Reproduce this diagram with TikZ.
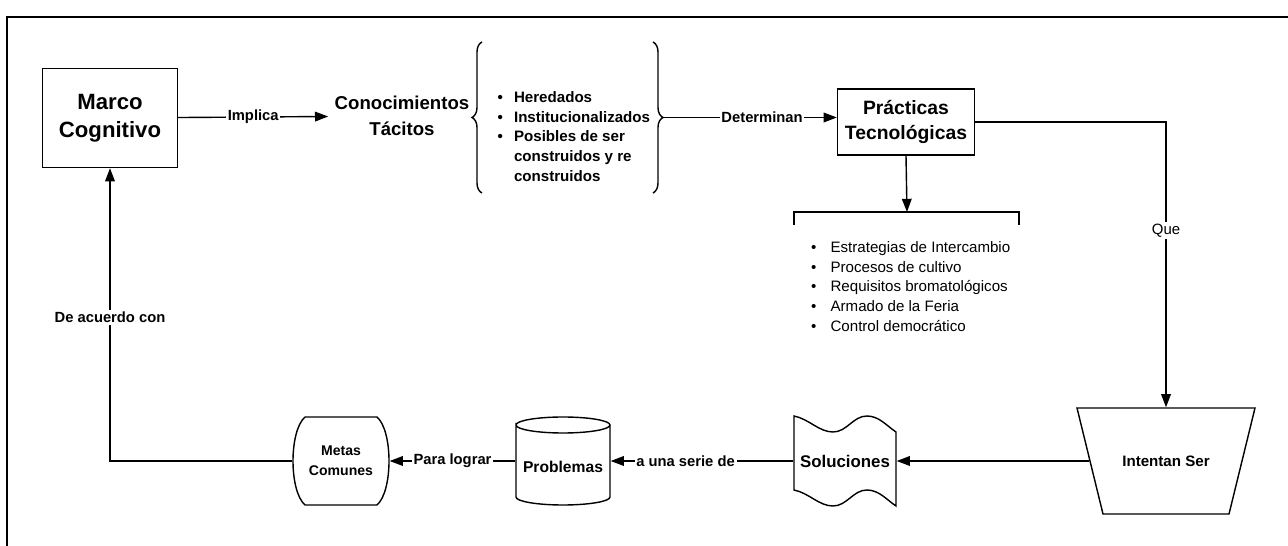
\documentclass[tikz,border=0pt]{standalone}
\usepackage{fontspec}
\setmainfont{Liberation Sans}
\usetikzlibrary{calc, arrows.meta, decorations.pathreplacing}
\newcommand{\fs}[2]{\fontsize{#1}{#2}\selectfont}

\begin{document}
\begin{tikzpicture}[x=0.02cm, y=-0.02cm, line width=0.8pt,
    >={Triangle[length=7.5pt,width=5.5pt]},
    box/.style={draw, align=center, inner sep=0pt},
    shp/.style={inner sep=0pt, align=center},
    lbl/.style={fill=white, inner sep=1pt, font=\fs{8.4}{10}\bfseries}]
    \useasboundingbox (0,0) rectangle (1288,546);
    % frame
    \draw[line width=1.1pt] (7,546) -- (7,17) -- (1288,17);
    % top row
    \node[box, minimum width=2.7cm, minimum height=1.98cm, font=\fs{12.6}{16}\bfseries] (marco) at (110,118) {Marco\\Cognitivo};
    \node[align=center, font=\fs{10.6}{14.6}\bfseries] (cono) at (402,116) {Conocimientos\\T\'acitos};
    \node[anchor=west, inner sep=0pt, font=\fs{8.6}{11.3}\bfseries] (tacit) at (497,138) {%
      \begin{tabular}{@{}l@{\hspace{6.3pt}}l@{}}
        \textbullet & Heredados\\
        \textbullet & Institucionalizados\\
        \textbullet & Posibles de ser\\
                    & construidos y re\\
                    & construidos
      \end{tabular}};
    \node[box, minimum width=2.74cm, minimum height=1.32cm, font=\fs{11}{14.2}\bfseries] (prac) at (906,122) {Pr\'acticas\\Tecnol\'ogicas};
    \node[anchor=west, inner sep=0pt, font=\fs{8.6}{11.3}] (estr) at (810.5,288) {%
      \begin{tabular}{@{}l@{\hspace{8pt}}l@{}}
        \textbullet & Estrategias de Intercambio\\
        \textbullet & Procesos de cultivo\\
        \textbullet & Requisitos bromatol\'ogicos\\
        \textbullet & Armado de la Feria\\
        \textbullet & Control democr\'atico
      \end{tabular}};
    % braces
    \draw[decorate, decoration={brace, amplitude=0.2cm}] (482,193) -- (482,42);
    \draw[decorate, decoration={brace, amplitude=0.2cm}] (653,42) -- (653,193);
    \coordinate (rb) at (663,117.5);
    \coordinate (brk) at (907,212);
    % bottom row
    \node[shp, minimum width=3.04cm, minimum height=2.12cm, font=\fs{8.6}{10}\bfseries] (intentan) at (1166,461) {Intentan Ser};
    \node[shp, minimum width=2.04cm, minimum height=1.5cm, font=\fs{9.6}{11}\bfseries] (sol) at (845,461) {Soluciones};
    \node[shp, minimum width=1.88cm, minimum height=1.76cm, font=\fs{8.9}{11}\bfseries] (prob) at (563,461) {\raisebox{-3.4pt}[\height][\depth]{Problemas}};
    \node[shp, minimum width=1.92cm, minimum height=1.78cm, font=\fs{8}{11.3}\bfseries] (metas) at (341,461) {Metas\\Comunes};
    % shape outlines
    \draw[shift={(intentan.center)}] (-89,-53) -- (89,-53) -- (63,53) -- (-63,53) -- cycle;
    \draw[shift={(sol.center)}] (-51,-45) .. controls (-36,-42) and (-26,-29) .. (-12,-29)
      .. controls (2,-29) and (8,-45) .. (22,-45) .. controls (34,-45) and (42,-35) .. (51,-29)
      -- (51,45) .. controls (42,39) and (34,29) .. (22,29) .. controls (8,29) and (2,45) .. (-12,45)
      .. controls (-26,45) and (-36,32) .. (-51,29) -- cycle;
    \draw[shift={(prob.center)}] (-47,-36) .. controls (-47,-40.4) and (-26,-44) .. (0,-44)
      .. controls (26,-44) and (47,-40.4) .. (47,-36) .. controls (47,-31.6) and (26,-28) .. (0,-28)
      .. controls (-26,-28) and (-47,-31.6) .. (-47,-36) -- (-47,36)
      .. controls (-47,40.4) and (-26,44) .. (0,44) .. controls (26,44) and (47,40.4) .. (47,36) -- (47,-36);
    \draw[shift={(metas.center)}] (-36,-44) -- (36,-44) .. controls (52,-30) and (52,30) .. (36,44)
      -- (-36,44) .. controls (-52,30) and (-52,-30) .. (-36,-44) -- cycle;
    % connectors
    \draw[->] (marco) -- node[lbl] {Implica} (cono);
    \draw[->] (rb) -- node[lbl, pos=0.57] {Determinan} (rb -| prac.west);
    \draw[->] (prac.south) -- (brk);
    \draw (794,225) |- (brk) -| (1019,225);
    \draw[->] (prac.east) -| node[pos=0.69, fill=white, inner sep=1pt, font=\fs{8.5}{10}] {Que} (intentan.north);
    \draw[->] (intentan.west) -- (sol.east);
    \draw[->] (sol.west) -- node[lbl, pos=0.59] {a una serie de} (prob.east);
    \draw[->] (prob.west) -- node[lbl] {Para lograr} (metas.east);
    \draw[->] (metas.west) -| node[lbl, pos=0.745] {De acuerdo con} (marco.south);
\end{tikzpicture}
\end{document}
